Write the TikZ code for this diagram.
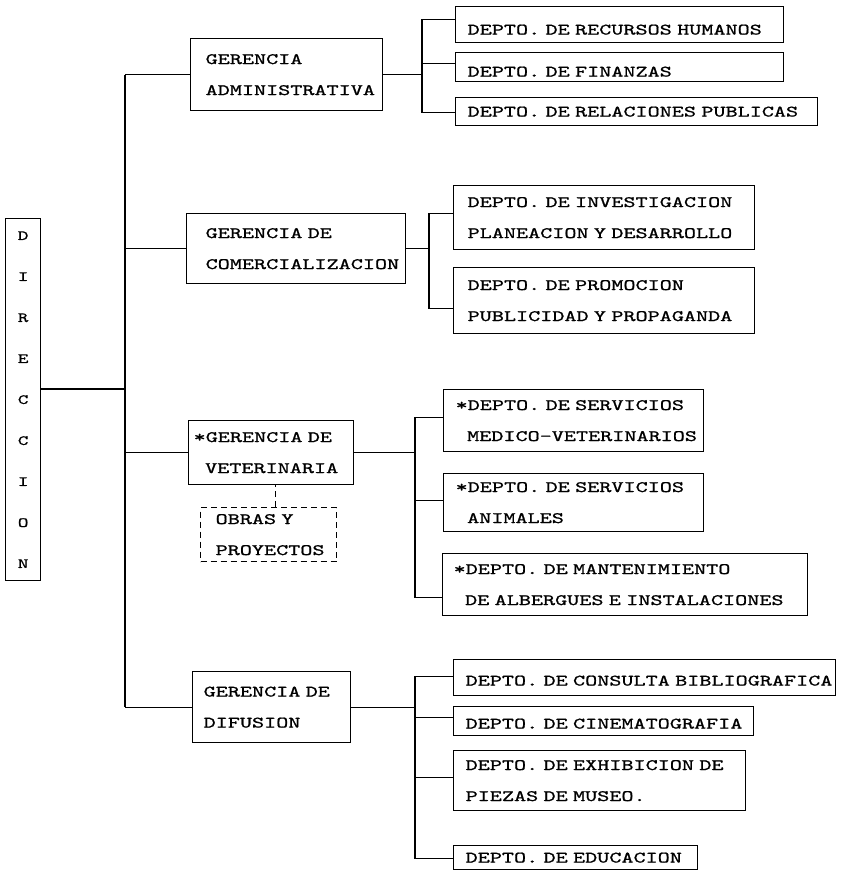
\documentclass[tikz,border=0pt]{standalone}
\usepackage{fontspec}
\newfontfamily\twfont[FakeStretch=1.44,FakeBold=1]{lmmono10-regular.otf}
\begin{document}
\begin{tikzpicture}[x=1pt,y=-1pt,
  box/.style={draw, line width=1.3pt, anchor=north west, align=left,
    font=\twfont\fontsize{16}{31}\selectfont, inner ysep=0pt},
  ln/.style={line width=1.3pt},
  dsh/.style={line width=1.3pt, dash pattern=on 6pt off 4pt}]
\useasboundingbox (0,0) rectangle (851,871);

% Direccion
\node[box, align=center, inner sep=0pt, minimum width=35pt, minimum height=362pt,
  font=\twfont\fontsize{14}{41}\selectfont] (dir) at (5,218)
  {D\\I\\R\\E\\C\\C\\I\\O\\N};

% Gerencias
\node[box, inner xsep=15pt, text width=162pt, minimum height=72pt] (ga) at (190,38)
  {\mbox{GERENCIA}\\\mbox{ADMINISTRATIVA}};
\node[box, inner xsep=19pt, text width=181pt, minimum height=70pt] (gc) at (186,213)
  {\mbox{GERENCIA DE}\\\mbox{COMERCIALIZACION}};
\node[box, inner xsep=5pt, text width=155pt, minimum height=64pt] (gv) at (188,420)
  {\mbox{*GERENCIA DE}\\\mbox{\hspace{11.5pt}VETERINARIA}};
\node[box, inner xsep=11pt, text width=136pt, minimum height=71pt] (gd) at (192,671)
  {\mbox{GERENCIA DE}\\\mbox{DIFUSION}};
\node[box, dsh, inner xsep=15pt, text width=106pt, minimum height=54pt] (obras) at (200,507)
  {\mbox{OBRAS Y}\\\mbox{PROYECTOS}};

% Deptos
\node[box, inner xsep=12pt, text width=304pt, minimum height=36pt, text height=20pt] (d11) at (455,6)
  {\mbox{DEPTO. DE RECURSOS HUMANOS}};
\node[box, inner xsep=12pt, text width=304pt, minimum height=29pt, text height=19pt] (d12) at (455,52)
  {\mbox{DEPTO. DE FINANZAS}};
\node[box, inner xsep=12pt, text width=338pt, minimum height=28pt] (d13) at (455,97)
  {\mbox{DEPTO. DE RELACIONES PUBLICAS}};

\node[box, inner xsep=14pt, text width=273pt, minimum height=64pt] (d21) at (453,185)
  {\mbox{DEPTO. DE INVESTIGACION}\\\mbox{PLANEACION Y DESARROLLO}};
\node[box, inner xsep=14pt, text width=273pt, minimum height=66pt] (d22) at (453,267)
  {\mbox{DEPTO. DE PROMOCION}\\\mbox{PUBLICIDAD Y PROPAGANDA}};

\node[box, inner xsep=12pt, text width=236pt, minimum height=62pt] (d31) at (443,389)
  {\mbox{*DEPTO. DE SERVICIOS}\\\mbox{\hspace{11.5pt}MEDICO-VETERINARIOS}};
\node[box, inner xsep=12pt, text width=236pt, minimum height=58pt] (d32) at (443,473)
  {\mbox{*DEPTO. DE SERVICIOS}\\\mbox{\hspace{11.5pt}ANIMALES}};
\node[box, inner xsep=11pt, text width=343pt, minimum height=62pt] (d33) at (442,553)
  {\mbox{*DEPTO. DE MANTENIMIENTO}\\\mbox{\hspace{11.5pt}DE ALBERGUES E INSTALACIONES}};

\node[box, inner xsep=12pt, text width=358pt, minimum height=36pt, text height=16pt] (d41) at (453,659)
  {\mbox{DEPTO. DE CONSULTA BIBLIOGRAFICA}};
\node[box, inner xsep=12pt, text width=276pt, minimum height=29pt, text height=15pt] (d42) at (453,706)
  {\mbox{DEPTO. DE CINEMATOGRAFIA}};
\node[box, inner xsep=12pt, text width=268pt, minimum height=60pt] (d43) at (453,750)
  {\mbox{DEPTO. DE EXHIBICION DE}\\\mbox{PIEZAS DE MUSEO.}};
\node[box, inner xsep=12pt, text width=220pt, minimum height=24pt] (d44) at (453,845)
  {\mbox{DEPTO. DE EDUCACION}};

% coordinates for trunk and brackets
\coordinate (t0) at (125,389);
\coordinate (b1) at (422,0);
\coordinate (b2) at (429,0);
\coordinate (b3) at (415,0);
\coordinate (b4) at (415,0);

% trunk
\draw[ln] (dir.east |- t0) -- (t0);
\draw[ln] (ga.west -| t0) -- (gd.west -| t0);
\foreach \g in {ga,gc,gv,gd} \draw[ln] (\g.west) -- (\g.west -| t0);

% Administrativa
\draw[ln] (ga.east) -- (ga.east -| b1);
\draw[ln] ([yshift=5pt]d11.west) -| ([yshift=-1pt]d13.west -| b1) -- ([yshift=-1pt]d13.west);
\draw[ln] ([yshift=4pt]d12.west) -- ([yshift=4pt]d12.west -| b1);

% Comercializacion
\draw[ln] (gc.east) -- (gc.east -| b2);
\draw[ln] ([yshift=4pt]d21.west) -| ([yshift=-8pt]d22.west -| b2) -- ([yshift=-8pt]d22.west);

% Veterinaria
\draw[ln] (gv.east) -- (gv.east -| b3);
\draw[ln] ([yshift=3pt]d31.west) -| ([yshift=-13pt]d33.west -| b3) -- ([yshift=-13pt]d33.west);
\draw[ln] ([yshift=2pt]d32.west) -- ([yshift=2pt]d32.west -| b3);
\draw[dsh] ([xshift=7pt]obras.north) -- ([xshift=7pt]obras.north |- gv.south);

% Difusion
\draw[ln] (gd.east) -- (gd.east -| b4);
\draw[ln] ([yshift=1pt]d41.west) -| ([yshift=-1pt]d44.west -| b4) -- ([yshift=-1pt]d44.west);
\draw[ln] ([yshift=3.5pt]d42.west) -- ([yshift=3.5pt]d42.west -| b4);
\draw[ln] ([yshift=3pt]d43.west) -- ([yshift=3pt]d43.west -| b4);
\end{tikzpicture}
\end{document}
